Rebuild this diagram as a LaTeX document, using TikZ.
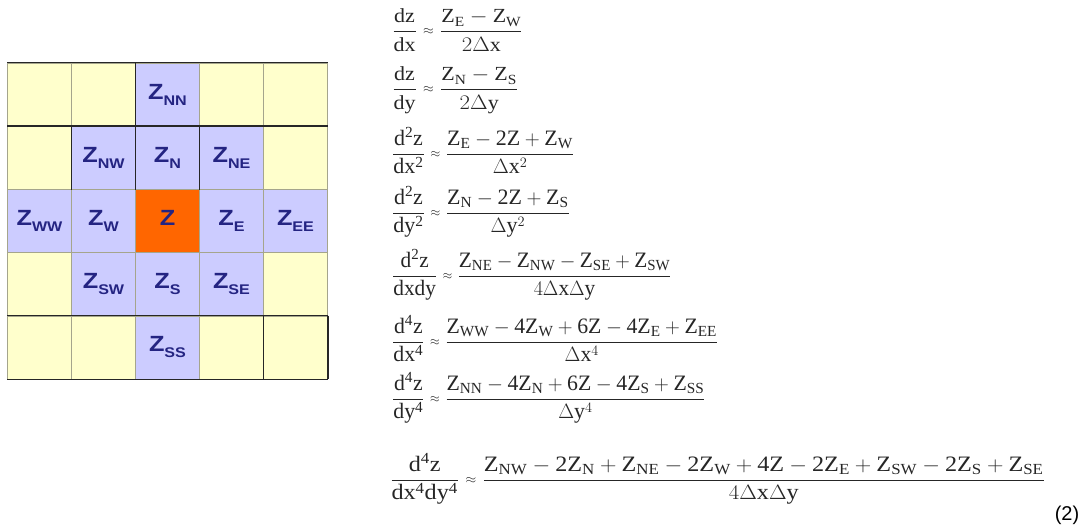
\documentclass[tikz,border=0pt]{standalone}
\usepackage{amsmath}
\usepackage{graphicx}
\usepackage{fontspec}
\setmainfont{Liberation Serif}
\setmathrm{Liberation Serif}
\setsansfont{Liberation Sans}
\usetikzlibrary{positioning}

\definecolor{cellyellow}{RGB}{255,255,204}
\definecolor{cellblue}{RGB}{204,204,255}
\definecolor{cellorange}{RGB}{255,102,0}
\definecolor{zink}{RGB}{36,36,130}
\definecolor{rulegray}{RGB}{165,165,140}

% grid label: Z with a stretched subscript
\newcommand{\zname}[1]{\scalebox{1.15}[1]{\sffamily\bfseries\fontsize{22}{22}\selectfont Z\raisebox{-6pt}{\fontsize{14}{14}\selectfont #1}}}
% one formula: size, horizontal stretch, body
\newcommand{\eqbox}[3]{\scalebox{#2}[1]{\fontsize{#1}{#1}\selectfont$\displaystyle #3$}}
% small approx sign as in the original
\newcommand{\apx}{\mathrel{\vcenter{\hbox{\scalebox{0.6}{$\approx$}}}}}

\begin{document}
\begin{tikzpicture}[
	x=1pt,
	y=-1pt,
	cell/.style={draw=rulegray,fill=cellyellow,line width=0.6pt,minimum width=64pt,minimum height=63.2pt,inner sep=0pt},
	zcell/.style={cell,fill=cellblue,text=zink},
	zmid/.style={cell,fill=cellorange,text=zink},
	edge/.style={draw=black!85,line width=1.4pt},
	eqn/.style={anchor=base west,inner sep=0pt,text=black!85},
	tag/.style={font=\sffamily\fontsize{20}{20}\selectfont,inner sep=0pt}
	]
	\useasboundingbox (0,0) rectangle (1092,528);
	
	% 5x5 stencil
	\foreach \r in {0,...,4} {
		\foreach \c in {0,...,4} {
			\node[cell] (cell-\r-\c) at ({39.5+64*\c},{94.6+63.2*\r}) {};
		}
	}
	\foreach \r/\c/\lab in {0/2/NN,1/1/NW,1/2/N,1/3/NE,2/0/WW,2/1/W,2/3/E,2/4/EE,3/1/SW,3/2/S,3/3/SE,4/2/SS} {
		\node[zcell] (z-\lab) at (cell-\r-\c) {\zname{\lab}};
	}
	\node[zmid] (z-C) at (cell-2-2) {\zname{}};
	
	% dark table rules
	\draw[edge] (cell-0-0.north west) -- (cell-0-4.north east);
	\draw[edge] (cell-0-2.north west) -- (cell-0-2.south west);
	\draw[edge] (cell-1-0.north west) -- (cell-1-4.north east);
	\foreach \c in {1,2,3} {
		\draw[edge] (cell-1-\c.north west) -- (cell-1-\c.south west);
	}
	\draw[edge] (cell-4-0.north west) -- (cell-4-4.north east);
	\draw[edge] (cell-4-4.north west) -- (cell-4-4.south west);
	\draw[edge] (cell-4-4.north east) -- (cell-4-4.south east);
	\draw[edge] (cell-4-0.south west) -- (cell-4-4.south east);
	
	% finite differences (baseline = bar + axis)
	\node[eqn] (eq-x) at (392,37) {\eqbox{20}{1.1}{\frac{\mathrm{dz}}{\mathrm{dx}}\apx\frac{\mathrm{Z_E-Z_W}}{2\Delta\mathrm{x}}}};
	\node[eqn] (eq-y) at (392,95) {\eqbox{20}{1.1}{\frac{\mathrm{dz}}{\mathrm{dy}}\apx\frac{\mathrm{Z_N-Z_S}}{2\Delta\mathrm{y}}}};
	\node[eqn] (eq-xx) at (392,159.5) {\eqbox{22}{1}{\frac{\mathrm{d^2z}}{\mathrm{dx^2}}\apx\frac{\mathrm{Z_E-2Z+Z_W}}{\Delta\mathrm{x}^2}}};
	\node[eqn] (eq-yy) at (392,218.5) {\eqbox{22}{1}{\frac{\mathrm{d^2z}}{\mathrm{dy^2}}\apx\frac{\mathrm{Z_N-2Z+Z_S}}{\Delta\mathrm{y}^2}}};
	\node[eqn] (eq-xy) at (392,281.5) {\eqbox{22}{0.97}{\frac{\mathrm{d^2z}}{\mathrm{dxdy}}\apx\frac{\mathrm{Z_{NE}-Z_{NW}-Z_{SE}+Z_{SW}}}{4\Delta\mathrm{x}\Delta\mathrm{y}}}};
	\node[eqn] (eq-x4) at (392,347.5) {\eqbox{22}{0.99}{\frac{\mathrm{d^4z}}{\mathrm{dx^4}}\apx\frac{\mathrm{Z_{WW}-4Z_W+6Z-4Z_E+Z_{EE}}}{\Delta\mathrm{x}^4}}};
	\node[eqn] (eq-y4) at (392,404.5) {\eqbox{22}{0.99}{\frac{\mathrm{d^4z}}{\mathrm{dy^4}}\apx\frac{\mathrm{Z_{NN}-4Z_N+6Z-4Z_S+Z_{SS}}}{\Delta\mathrm{y}^4}}};
	\node[eqn] (eq-x4y4) at (390,485.5) {\eqbox{22}{1.1}{\frac{\mathrm{d^4z}}{\mathrm{dx^4dy^4}}\apx\frac{\mathrm{Z_{NW}-2Z_N+Z_{NE}-2Z_W+4Z-2Z_E+Z_{SW}-2Z_S+Z_{SE}}}{4\Delta\mathrm{x}\Delta\mathrm{y}}}};
	
	\node[tag] (eq-tag) at (1067,515) {(2)};
\end{tikzpicture}
\end{document}
